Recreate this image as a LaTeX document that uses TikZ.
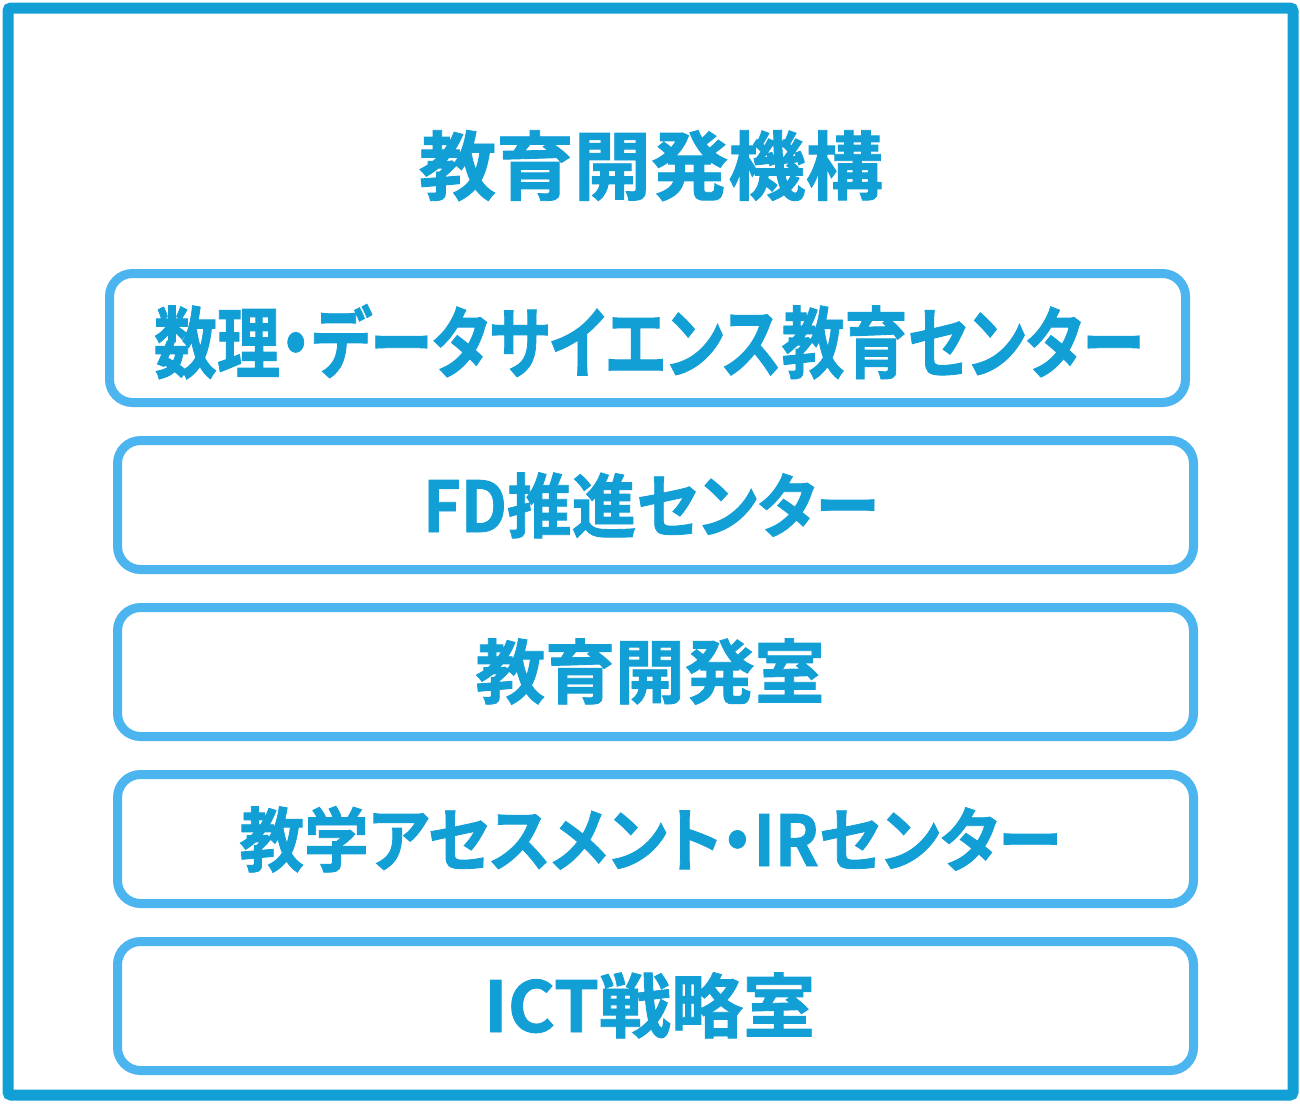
\documentclass[tikz,border=0pt]{standalone}
\usepackage{fontspec}
\usepackage{graphicx}
\newfontfamily\jp{Noto Sans CJK JP}[UprightFont=* Bold, RawFeature=+palt, FakeBold=1.2]
\definecolor{frameblue}{RGB}{18,159,214}
\definecolor{boxblue}{RGB}{76,180,238}
\tikzset{
  frame/.style={draw=frameblue, line width=11pt, rounded corners=3pt},
  unitbox/.style={draw=boxblue, line width=9pt, rounded corners=23pt, minimum width=1076pt, minimum height=129pt, inner sep=0pt, fill=white},
  lbl/.style={anchor=base, inner sep=0pt, text=frameblue},
}
\newcommand{\fitw}[3]{{\fontsize{#2}{#2}\jp\resizebox{#1}{\height}{#3}}}
\begin{document}
\begin{tikzpicture}[x=1pt,y=-1pt]
\useasboundingbox (0,0) rectangle (1300,1104);
\fill[white] (0,0) rectangle (1300,1104);
\draw[frame] (8,8) rectangle (1293,1095);
\node[lbl] (title) at (651,194) {\fitw{464pt}{75pt}{教育開発機構}};
\node[unitbox] (b1) at (647.5,338) {};
\node[unitbox] (b2) at (655.5,505) {};
\node[unitbox] (b3) at (655.5,672) {};
\node[unitbox] (b4) at (655.5,839) {};
\node[unitbox] (b5) at (655.5,1006) {};
\node[lbl] (t1) at (649,372) {\fitw{990pt}{78pt}{数理・データサイエンス教育センター}};
\node[lbl] (t2) at (651,532) {\fitw{456pt}{70pt}{FD推進センター}};
\node[lbl] (t3) at (650,698) {\fitw{349pt}{70pt}{教育開発室}};
\node[lbl] (t4) at (650.5,866) {\fitw{822pt}{70pt}{教学アセスメント・IRセンター}};
\node[lbl] (t5) at (649.5,1032) {\fitw{331pt}{70pt}{ICT戦略室}};
\end{tikzpicture}
\end{document}
